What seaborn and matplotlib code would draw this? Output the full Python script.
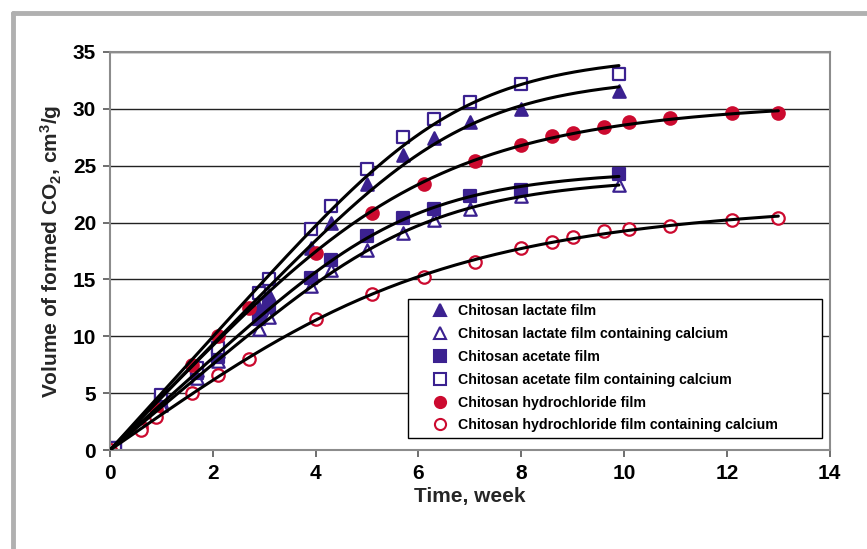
import numpy as np
import pandas as pd
import matplotlib
matplotlib.use("Agg")
import matplotlib.pyplot as plt
from matplotlib.lines import Line2D
import seaborn as sns

# weeks for lactate / acetate films and for hydrochloride films
weeks_acid = [0.1, 1.0, 1.7, 2.1, 2.9, 3.1, 3.9, 4.3, 5.0, 5.7, 6.3, 7.0, 8.0, 9.9]
weeks_hcl = [0, 0.6, 0.9, 1.6, 2.1, 2.7, 4.0, 5.1, 6.1, 7.1, 8.0, 8.6, 9.0, 9.6, 10.1, 10.9, 12.1, 13.0]

lactate = [0.2, 4.3, 7.0, 8.7, 12.5, 13.6, 17.8, 20.0, 23.4, 25.9, 27.4, 28.8, 30.0, 31.6]
lactate_ca = [0.2, 4.0, 6.3, 7.8, 10.6, 11.7, 14.4, 15.8, 17.6, 19.1, 20.2, 21.2, 22.3, 23.3]
acetate = [0.2, 4.5, 6.8, 8.2, 11.5, 12.6, 15.1, 16.7, 18.8, 20.4, 21.2, 22.3, 22.9, 24.3]
acetate_ca = [0.2, 4.8, 7.2, 9.0, 13.8, 15.0, 19.4, 21.5, 24.7, 27.5, 29.1, 30.6, 32.2, 33.1]
hcl = [0, 2.0, 3.6, 7.5, 10.0, 12.5, 17.3, 20.8, 23.4, 25.4, 26.8, 27.6, 27.9, 28.4, 28.8, 29.2, 29.6, 29.6]
hcl_ca = [0, 1.8, 2.9, 5.0, 6.6, 8.0, 11.5, 13.7, 15.2, 16.5, 17.8, 18.3, 18.7, 19.3, 19.4, 19.7, 20.2, 20.4]

labels = [
    "Chitosan lactate film",
    "Chitosan lactate film containing calcium",
    "Chitosan acetate film",
    "Chitosan acetate film containing calcium",
    "Chitosan hydrochloride film",
    "Chitosan hydrochloride film containing calcium",
]

purple = "#3b2190"
red = "#cc0a2f"

series = [
    (labels[0], weeks_acid, lactate, "^", purple, True),
    (labels[1], weeks_acid, lactate_ca, "^", purple, False),
    (labels[2], weeks_acid, acetate, "s", purple, True),
    (labels[3], weeks_acid, acetate_ca, "s", purple, False),
    (labels[4], weeks_hcl, hcl, "o", red, True),
    (labels[5], weeks_hcl, hcl_ca, "o", red, False),
]


def trend_line(xs, ys):
    # least-squares saturation fit  y = a*x / (1 + (x/B)^n)^(1/n)
    x = np.clip(np.asarray(xs, float), 0, None)
    y = np.asarray(ys, float)
    best = None
    for n in np.linspace(1.0, 5.0, 81):
        for b in np.linspace(2.0, 40.0, 381):
            f = x / (1 + (x / b) ** n) ** (1 / n)
            a = (f @ y) / (f @ f)
            err = np.sum((a * f - y) ** 2)
            if best is None or err < best[0]:
                best = (err, a, b, n)
    _, a, b, n = best
    xx = np.linspace(-0.15, xs[-1], 200)
    xp = np.clip(xx, 0, None)
    yy = np.where(xx < 0, a * xx, a * xp / (1 + (xp / b) ** n) ** (1 / n))
    return xx, yy


sns.set_theme(style="white")
plt.rcParams["font.family"] = ["Liberation Sans", "DejaVu Sans"]
plt.rcParams["mathtext.fontset"] = "custom"
plt.rcParams["mathtext.rm"] = "Liberation Sans:bold"
plt.rcParams["mathtext.it"] = "Liberation Sans:bold"
plt.rcParams["text.color"] = "black"

fig = plt.figure(figsize=(8.67, 5.49), dpi=100)
ax = fig.add_axes([0.1269, 0.1803, 0.8301, 0.7250])

for name, xs, ys, mk, col, filled in series:
    tx, ty = trend_line(xs, ys)
    trend = pd.DataFrame({"x": tx, "y": ty})
    sns.lineplot(data=trend, x="x", y="y", ax=ax, color="black", lw=2.2,
                 sort=False, estimator=None, zorder=3, legend=False)

handles = []
for name, xs, ys, mk, col, filled in series:
    df = pd.DataFrame({"week": xs, "co2": ys})
    face = col if filled else "white"
    ms = 80 if mk != "s" else 64
    sns.scatterplot(data=df, x="week", y="co2", ax=ax, marker=mk, s=ms,
                    facecolor=face, edgecolor=col, linewidth=1.6, zorder=2)
    handles.append(Line2D([], [], ls="none", marker=mk, markersize=8,
                          markerfacecolor=face, markeredgecolor=col,
                          markeredgewidth=1.5, label=name))

ax.set_xlim(0, 14)
ax.set_ylim(0, 35)
ax.set_xticks(range(0, 15, 2))
ax.set_yticks(range(0, 36, 5))
ax.yaxis.grid(True, color="#222222", lw=1.0)
ax.xaxis.grid(False)
for s in ax.spines.values():
    s.set_color("#8c8c8c")
    s.set_linewidth(1.5)
ax.tick_params(axis="both", which="both", direction="out", length=5,
               width=1.2, color="#555555", labelsize=15, labelcolor="black",
               pad=5, bottom=True, left=True)
for t in ax.get_xticklabels() + ax.get_yticklabels():
    t.set_fontweight("bold")

ax.set_xlabel("Time, week", fontsize=15, fontweight="bold", labelpad=3)
ax.set_ylabel("Volume of formed CO$_\\mathregular{2}$, cm$^\\mathregular{3}$/g",
              fontsize=15, fontweight="bold", labelpad=6)

leg = ax.legend(handles=handles, loc="lower left",
                bbox_to_anchor=(0.4139, 0.0302, 0.575, 0.359), mode="expand",
                borderaxespad=0, frameon=True, fancybox=False, framealpha=1,
                edgecolor="black", prop={"size": 10.2, "weight": "bold"},
                labelspacing=0.62, handletextpad=-0.55, borderpad=0.4,
                handlelength=3.7)
leg.get_frame().set_linewidth(1.0)

# grey outer frame (left and top edges visible)
fig.add_artist(Line2D([13 / 867, 13 / 867], [0, 1 - 13 / 549], color="#b0b0b0", lw=3.5))
fig.add_artist(Line2D([13 / 867, 1], [1 - 13 / 549, 1 - 13 / 549], color="#b0b0b0", lw=3.5))

fig.savefig("out.png", dpi=100)
